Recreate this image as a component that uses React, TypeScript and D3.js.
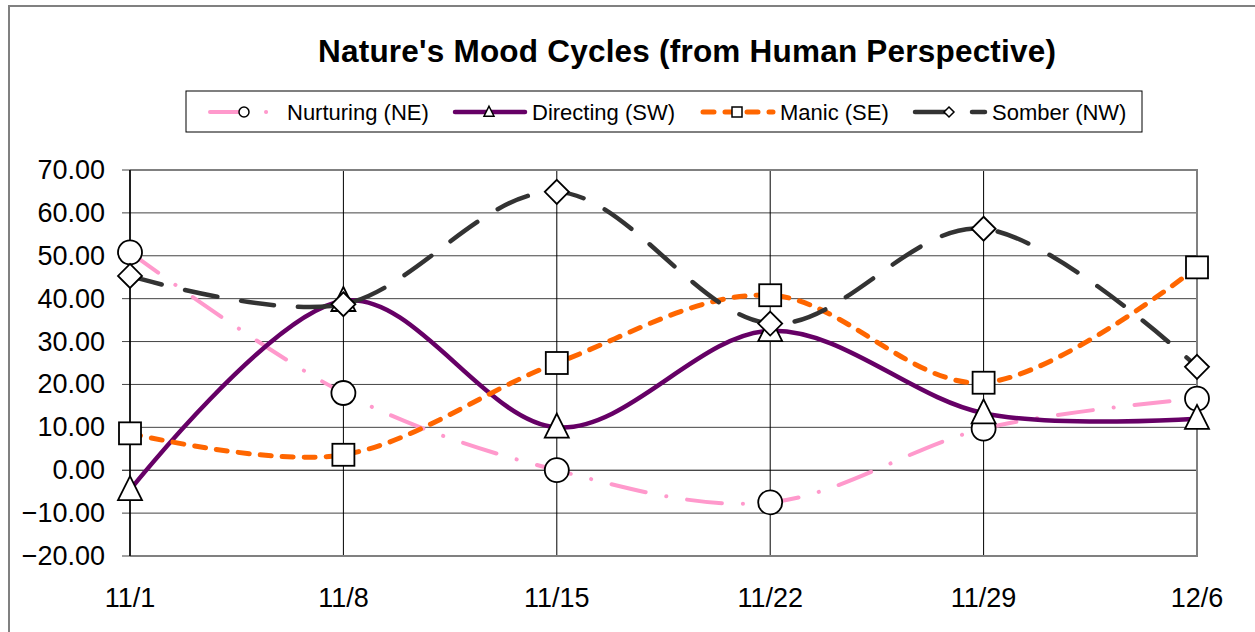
import React from 'react';
import * as d3 from 'd3';

const dates = ['11/1', '11/8', '11/15', '11/22', '11/29', '12/6'];
const nurturing = [50.8, 18.0, 0.0, -7.5, 9.7, 16.7];
const directing = [-4.6, 39.5, 10.0, 32.5, 13.3, 12.0];
const manic = [8.6, 3.6, 25.0, 40.8, 20.4, 47.3];
const somber = [45.3, 38.7, 64.9, 34.2, 56.3, 24.1];
const yTicks = [-20, -10, 0, 10, 20, 30, 40, 50, 60, 70];

const W = 1255;
const H = 632;
const font = '"Liberation Sans", Arial, sans-serif';

const series = [
  { name: 'Nurturing (NE)', values: nurturing, color: '#FF99CC', width: 4, dash: '35 21 0.1 21', marker: 'circle', lx: 210 },
  { name: 'Directing (SW)', values: directing, color: '#660066', width: 4.5, dash: null, marker: 'triangle', lx: 455 },
  { name: 'Manic (SE)', values: manic, color: '#FF6600', width: 5, dash: '11 11', marker: 'square', lx: 703 },
  { name: 'Somber (NW)', values: somber, color: '#333333', width: 4.5, dash: '33 24', marker: 'diamond', lx: 915 },
];

function Marker({ type, x, y, s }: { type: string; x: number; y: number; s: number }) {
  const common = { fill: '#fff', stroke: '#000', strokeWidth: s > 6 ? 1.8 : 1.5 };
  if (type === 'circle') return <circle cx={x} cy={y} r={s} {...common} />;
  if (type === 'square') return <rect x={x - s} y={y - s} width={s * 2} height={s * 2} {...common} />;
  if (type === 'triangle')
    return <path d={`M${x},${y - s * 1.15}L${x + s},${y + s * 0.85}L${x - s},${y + s * 0.85}Z`} {...common} />;
  return <path d={`M${x},${y - s}L${x + s},${y}L${x},${y + s}L${x - s},${y}Z`} {...common} />;
}

export default function App() {
  const x = d3.scalePoint<string>().domain(dates).range([130, 1197]);
  const y = d3.scaleLinear().domain([-20, 70]).range([556, 170]);
  const line = d3
    .line<number>()
    .x((_, i) => x(dates[i]) as number)
    .y((d) => y(d))
    .curve(d3.curveCardinal.tension(0));
  const fmt = d3.format('.2f');

  return (
    <svg width={W} height={H} style={{ position: 'absolute', left: 0, top: 0 }} fontFamily={font}>
      <rect x={0} y={0} width={W} height={H} fill="#fff" />
      {/* chart border */}
      <path d={`M9,${H}V6H${W}`} fill="none" stroke="#808080" strokeWidth={2} />

      <text x={687} y={62} textAnchor="middle" fontSize={31.5} fontWeight="bold" textLength={738}>
        Nature's Mood Cycles (from Human Perspective)
      </text>

      {/* legend */}
      <rect x={186} y={91} width={956} height={41} fill="#fff" stroke="#000" strokeWidth={1} />
      {series.map((s) => (
        <g key={s.name}>
          <line
            x1={s.lx}
            x2={s.lx + 70}
            y1={112}
            y2={112}
            stroke={s.color}
            strokeWidth={s.width}
            strokeDasharray={s.dash ?? undefined}
            strokeLinecap="round"
          />
          <Marker type={s.marker} x={s.lx + 34} y={112} s={5} />
          <text x={s.lx + 77} y={120} fontSize={22}>
            {s.name}
          </text>
        </g>
      ))}

      {/* gridlines */}
      {yTicks.map((t) => (
        <g key={t}>
          <line x1={122} x2={1197} y1={y(t)} y2={y(t)} stroke={t === 0 ? '#000' : '#444'} strokeWidth={1} />
          <text x={105} y={y(t) + 9} textAnchor="end" fontSize={27}>
            {fmt(t)}
          </text>
        </g>
      ))}
      {dates.map((d) => (
        <g key={d}>
          <line x1={x(d)} x2={x(d)} y1={170} y2={556} stroke="#000" strokeWidth={1} />
          <text x={x(d)} y={607} textAnchor="middle" fontSize={27}>
            {d}
          </text>
        </g>
      ))}
      <path d="M130,170H1197V556H130" fill="none" stroke="#808080" strokeWidth={2} />
      <line x1={130} x2={130} y1={170} y2={556} stroke="#000" strokeWidth={1.5} />

      {/* series */}
      {series.map((s) => (
        <g key={s.name}>
          <path
            d={line(s.values) as string}
            fill="none"
            stroke={s.color}
            strokeWidth={s.width}
            strokeDasharray={s.dash ?? undefined}
            strokeLinecap="round"
          />
          {s.values.map((v, i) => (
            <Marker key={i} type={s.marker} x={x(dates[i]) as number} y={y(v)} s={s.marker === 'square' ? 11 : 12} />
          ))}
        </g>
      ))}
    </svg>
  );
}
